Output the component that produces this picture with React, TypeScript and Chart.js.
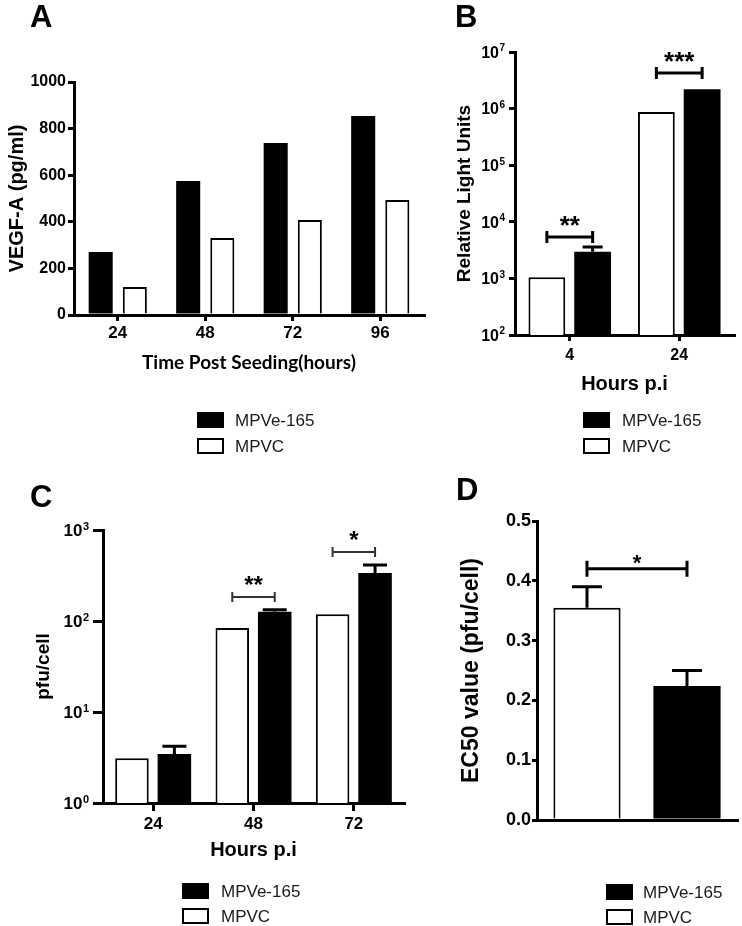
import React, { useEffect, useRef } from 'react';
import { Chart, registerables } from 'chart.js';

Chart.register(...registerables);

const FONT = '"Liberation Sans", Arial, Helvetica, sans-serif';

// ---------- Panel A : VEGF-A secretion ----------
const A_CATEGORIES = ['24', '48', '72', '96'];
const A_MPVE165 = [270, 575, 738, 854];
const A_MPVC = [120, 330, 408, 494];
const A_Y_TICKS = [0, 200, 400, 600, 800, 1000];

// ---------- Panel B : Relative Light Units ----------
const B_CATEGORIES = ['4', '24'];
const B_MPVC = [1050, 870000];
const B_MPVE165 = [2950, 2200000];
const B_MPVE165_UPPER = [3600, null];
const B_Y_TICKS = [1e2, 1e3, 1e4, 1e5, 1e6, 1e7];
const B_Y_EXPONENTS = ['2', '3', '4', '5', '6', '7'];
const B_SIG_LEVEL = [5400, 4250000];
const B_SIG_LABEL = ['**', '***'];

// ---------- Panel C : pfu/cell ----------
const C_CATEGORIES = ['24', '48', '72'];
const C_MPVC = [3.1, 84, 119];
const C_MPVE165 = [3.45, 126, 337];
const C_MPVE165_UPPER = [4.2, 133, 412];
const C_Y_TICKS = [1, 10, 100, 1000];
const C_Y_EXPONENTS = ['0', '1', '2', '3'];
const C_SIG_LEVEL = [null, 184, 573];
const C_SIG_LABEL = ['', '**', '*'];

// ---------- Panel D : EC50 ----------
const D_CATEGORIES = ['MPVC', 'MPVe-165'];
const D_MPVC = [0.355, null];
const D_MPVE165 = [null, 0.224];
const D_MPVC_UPPER = [0.39, null];
const D_MPVE165_UPPER = [null, 0.25];
const D_Y_TICKS = [0, 0.1, 0.2, 0.3, 0.4, 0.5];
const D_Y_LABELS = ['0.0', '0.1', '0.2', '0.3', '0.4', '0.5'];
const D_SIG_LEVEL = 0.42;
const D_SIG_LABEL = '*';

const LEGEND_LABELS = ['MPVe-165', 'MPVC'];
const LEGEND_FILLS = ['#000000', '#ffffff'];

const decorPlugin: any = {
  id: 'decor',
  afterDatasetsDraw(chart: any, _args: any, opts: any) {
    const ctx = chart.ctx;
    const ys = chart.scales.y;
    ctx.save();
    (opts.errors || []).forEach((e: any) => {
      const meta = chart.getDatasetMeta(e.dataset);
      e.upper.forEach((u: any, i: number) => {
        if (u == null) return;
        const el = meta.data[i];
        const yu = ys.getPixelForValue(u);
        ctx.strokeStyle = '#000';
        ctx.lineWidth = e.width;
        ctx.beginPath();
        ctx.moveTo(el.x, el.y);
        ctx.lineTo(el.x, yu);
        ctx.moveTo(el.x - e.cap / 2, yu);
        ctx.lineTo(el.x + e.cap / 2, yu);
        ctx.stroke();
      });
    });
    (opts.brackets || []).forEach((b: any) => {
      if (b.level == null) return;
      const x1 = chart.getDatasetMeta(b.a[0]).data[b.a[1]].x;
      const x2 = chart.getDatasetMeta(b.b[0]).data[b.b[1]].x;
      const y = ys.getPixelForValue(b.level);
      ctx.strokeStyle = b.color;
      ctx.lineWidth = b.width;
      ctx.beginPath();
      ctx.moveTo(x1, y);
      ctx.lineTo(x2, y);
      ctx.moveTo(x1, y - b.tick);
      ctx.lineTo(x1, y + b.tick);
      ctx.moveTo(x2, y - b.tick);
      ctx.lineTo(x2, y + b.tick);
      ctx.stroke();
      ctx.fillStyle = '#000';
      ctx.font = `bold ${b.starSize}px ${FONT}`;
      ctx.textAlign = 'center';
      ctx.textBaseline = 'alphabetic';
      const cy = y - b.gap;
      ctx.fillText(b.label, (x1 + x2) / 2, cy + 0.59 * b.starSize);
    });
    ctx.restore();
  },
  afterDraw(chart: any, _args: any, opts: any) {
    const ctx = chart.ctx;
    ctx.save();
    if (opts.powers) {
      // tick labels of a log axis written as 10 with a raised exponent
      const P = opts.powers;
      const ys = chart.scales.y;
      const right = chart.chartArea.left - P.offset;
      ys.ticks.forEach((t: any, i: number) => {
        const y = ys.getPixelForValue(t.value);
        ctx.fillStyle = '#000';
        ctx.textAlign = 'right';
        ctx.textBaseline = 'alphabetic';
        ctx.font = `bold ${P.expSize}px ${FONT}`;
        const ew = ctx.measureText(P.exponents[i]).width;
        const digitTop = y - 0.358 * P.size;
        ctx.fillText(P.exponents[i], right, digitTop - 2 + 0.716 * P.expSize);
        ctx.font = `bold ${P.size}px ${FONT}`;
        ctx.fillText('10', right - ew - 0.5, y + 0.358 * P.size);
      });
    }
    if (opts.letter) {
      ctx.fillStyle = '#000';
      ctx.font = `bold 31px ${FONT}`;
      ctx.textAlign = 'left';
      ctx.textBaseline = 'alphabetic';
      ctx.fillText(opts.letter.text, opts.letter.x, opts.letter.y);
    }
    if (opts.legend) {
      const L = opts.legend;
      LEGEND_LABELS.forEach((lab, i) => {
        const cy = L.rows[i];
        ctx.fillStyle = LEGEND_FILLS[i];
        ctx.fillRect(L.boxX, cy - 7, 25, 14);
        ctx.strokeStyle = '#000';
        ctx.lineWidth = 2;
        ctx.strokeRect(L.boxX, cy - 7, 25, 14);
        ctx.fillStyle = '#1a1a1a';
        ctx.font = `17px ${FONT}`;
        ctx.textAlign = 'left';
        ctx.textBaseline = 'middle';
        ctx.fillText(lab, L.textX, cy + 1);
      });
    }
    ctx.restore();
  },
};

function yAxis(width: number, tickSize: number, tickLen: number, tickPad: number,
  title: string, titleSize: number, titlePad: number, ticks: number[], labels: string[] | null) {
  return {
    afterFit: (s: any) => { s.width = width; },
    afterBuildTicks: (s: any) => { s.ticks = ticks.map((v) => ({ value: v })); },
    border: { display: true, color: '#000', width: 3 },
    grid: {
      display: true, drawOnChartArea: false, drawTicks: true, tickLength: tickLen,
      tickWidth: 3, tickColor: '#000', color: '#000', lineWidth: 3,
    },
    ticks: {
      display: !!labels, color: '#000', padding: tickPad,
      font: { family: FONT, size: tickSize, weight: 'bold', lineHeight: 1 },
      callback: (v: any, i: number) => (labels ? labels[i] : String(v)),
    },
    title: {
      display: true, text: title, color: '#000',
      font: { family: FONT, size: titleSize, weight: 'bold', lineHeight: 1 },
      padding: { top: titlePad, bottom: 0 },
    },
  };
}

function xAxis(height: number, tickSize: number, tickLen: number, tickPad: number,
  title: string | null, titleFont: any, titlePad: number, showTicks: boolean) {
  return {
    afterFit: (s: any) => { s.height = height; },
    border: { display: true, color: '#000', width: 3 },
    grid: {
      display: showTicks, offset: false, drawOnChartArea: false, drawTicks: showTicks, tickLength: tickLen,
      tickWidth: 3, tickColor: '#000', color: '#000', lineWidth: 3,
    },
    ticks: {
      display: showTicks, color: '#000', padding: tickPad,
      font: { family: FONT, size: tickSize, weight: 'bold', lineHeight: 1 },
    },
    title: {
      display: !!title, text: title || '', color: '#000',
      font: titleFont,
      padding: { top: 0, bottom: titlePad },
    },
  };
}

const basePlugins = { legend: { display: false }, tooltip: { enabled: false } };

function configA(): any {
  return {
    type: 'bar',
    data: {
      labels: A_CATEGORIES,
      datasets: [
        { label: 'MPVe-165', data: A_MPVE165, backgroundColor: '#000', borderColor: '#000', borderWidth: 0, categoryPercentage: 0.78, barPercentage: 0.705 },
        { label: 'MPVC', data: A_MPVC, backgroundColor: '#fff', borderColor: '#000', borderWidth: 2, categoryPercentage: 0.78, barPercentage: 0.705 },
      ],
    },
    options: {
      responsive: false, animation: false,
      layout: { padding: { left: 0, top: 82, right: 742 - 424, bottom: 926 - 315 - 70 } },
      scales: {
        x: xAxis(70, 17, 6, 3.5, 'Time Post Seeding(hours)', { family: 'Lato, "Open Sans", sans-serif', size: 19, weight: 'bold', lineHeight: 1 }, 13, true),
        y: { ...yAxis(74, 16, 6, 2, 'VEGF-A (pg/ml)', 20, 7, A_Y_TICKS, A_Y_TICKS.map(String)), min: 0, max: 1000 },
      },
      plugins: {
        ...basePlugins,
        decor: {
          letter: { text: 'A', x: 30, y: 27 },
          legend: { boxX: 198, textX: 235, rows: [420, 446] },
        },
      },
    },
    plugins: [decorPlugin],
  };
}

function configB(): any {
  return {
    type: 'bar',
    data: {
      labels: B_CATEGORIES,
      datasets: [
        { label: 'MPVC', data: B_MPVC, backgroundColor: '#fff', borderColor: '#000', borderWidth: 2, categoryPercentage: 0.836, barPercentage: 0.804 },
        { label: 'MPVe-165', data: B_MPVE165, backgroundColor: '#000', borderColor: '#000', borderWidth: 0, categoryPercentage: 0.836, barPercentage: 0.804 },
      ],
    },
    options: {
      responsive: false, animation: false,
      layout: { padding: { left: 440, top: 52, right: 742 - 734, bottom: 926 - 335 - 70 } },
      scales: {
        x: xAxis(70, 16, 6, 7, 'Hours p.i', { family: FONT, size: 20, weight: 'bold', lineHeight: 1 }, 11, true),
        y: { ...yAxis(75, 16, 6, 4, 'Relative Light Units', 19, 15, B_Y_TICKS, null), type: 'logarithmic', min: 1e2, max: 1e7 },
      },
      plugins: {
        ...basePlugins,
        decor: {
          letter: { text: 'B', x: 455, y: 27 },
          legend: { boxX: 584, textX: 622, rows: [420, 446] },
          powers: { exponents: B_Y_EXPONENTS, size: 16, expSize: 10, offset: 10 },
          errors: [{ dataset: 1, upper: B_MPVE165_UPPER, cap: 20, width: 3 }],
          brackets: B_SIG_LEVEL.map((lv, i) => ({
            a: [0, i], b: [1, i], level: lv, label: B_SIG_LABEL[i],
            color: '#000', width: 3, tick: 6, starSize: 26, gap: 18,
          })),
        },
      },
    },
    plugins: [decorPlugin],
  };
}

function configC(): any {
  return {
    type: 'bar',
    data: {
      labels: C_CATEGORIES,
      datasets: [
        { label: 'MPVC', data: C_MPVC, backgroundColor: '#fff', borderColor: '#000', borderWidth: 2, categoryPercentage: 0.846, barPercentage: 0.79 },
        { label: 'MPVe-165', data: C_MPVE165, backgroundColor: '#000', borderColor: '#000', borderWidth: 0, categoryPercentage: 0.846, barPercentage: 0.79 },
      ],
    },
    options: {
      responsive: false, animation: false,
      layout: { padding: { left: 20, top: 530, right: 742 - 404, bottom: 926 - 803 - 70 } },
      scales: {
        x: xAxis(70, 17, 8, 4.5, 'Hours p.i', { family: FONT, size: 20, weight: 'bold', lineHeight: 1 }, 13, true),
        y: { ...yAxis(83, 17, 10, 4, 'pfu/cell', 19, 14.5, C_Y_TICKS, null), type: 'logarithmic', min: 1, max: 1000 },
      },
      plugins: {
        ...basePlugins,
        decor: {
          letter: { text: 'C', x: 30, y: 507 },
          legend: { boxX: 183, textX: 221, rows: [891, 916] },
          powers: { exponents: C_Y_EXPONENTS, size: 17, expSize: 11, offset: 14 },
          errors: [{ dataset: 1, upper: C_MPVE165_UPPER, cap: 24, width: 3 }],
          brackets: C_SIG_LEVEL.map((lv, i) => ({
            a: [0, i], b: [1, i], level: lv, label: C_SIG_LABEL[i],
            color: '#333', width: 2, tick: 5, starSize: 24, gap: 18,
          })),
        },
      },
    },
    plugins: [decorPlugin],
  };
}

function configD(): any {
  return {
    type: 'bar',
    data: {
      labels: D_CATEGORIES,
      datasets: [
        { label: 'MPVC', data: D_MPVC, skipNull: true, backgroundColor: '#fff', borderColor: '#000', borderWidth: 2, categoryPercentage: 0.8, barPercentage: 0.84 },
        { label: 'MPVe-165', data: D_MPVE165, skipNull: true, backgroundColor: '#000', borderColor: '#000', borderWidth: 0, categoryPercentage: 0.8, barPercentage: 0.84 },
      ],
    },
    options: {
      responsive: false, animation: false,
      layout: { padding: { left: 440, top: 521, right: 742 - 737, bottom: 926 - 820 } },
      scales: {
        x: xAxis(0, 17, 0, 0, null, { family: FONT, size: 20, weight: 'bold', lineHeight: 1 }, 0, false),
        y: { ...yAxis(97, 18, 5, 1, 'EC50 value (pfu/cell)', 23, 20.5, D_Y_TICKS, D_Y_LABELS), min: 0, max: 0.5 },
      },
      plugins: {
        ...basePlugins,
        decor: {
          letter: { text: 'D', x: 456, y: 500 },
          legend: { boxX: 607, textX: 643, rows: [892, 917] },
          errors: [
            { dataset: 0, upper: D_MPVC_UPPER, cap: 30, width: 3 },
            { dataset: 1, upper: D_MPVE165_UPPER, cap: 30, width: 3 },
          ],
          brackets: [{
            a: [0, 0], b: [1, 1], level: D_SIG_LEVEL, label: D_SIG_LABEL,
            color: '#000', width: 3, tick: 8, starSize: 22, gap: 12,
          }],
        },
      },
    },
    plugins: [decorPlugin],
  };
}

export default function App() {
  const r0 = useRef<HTMLCanvasElement | null>(null);
  const r1 = useRef<HTMLCanvasElement | null>(null);
  const r2 = useRef<HTMLCanvasElement | null>(null);
  const r3 = useRef<HTMLCanvasElement | null>(null);

  useEffect(() => {
    const refs = [r0, r1, r2, r3];
    const cfgs = [configA(), configB(), configC(), configD()];
    const charts = cfgs.map((cfg, i) => new Chart(refs[i].current as HTMLCanvasElement, cfg));
    return () => charts.forEach((c) => c.destroy());
  }, []);

  const cs: React.CSSProperties = { position: 'absolute', left: 0, top: 0 };
  return (
    <div style={{ position: 'absolute', left: 0, top: 0, width: 742, height: 926, background: '#fff', overflow: 'hidden' }}>
      <canvas ref={r0} width={742} height={926} style={cs} />
      <canvas ref={r1} width={742} height={926} style={cs} />
      <canvas ref={r2} width={742} height={926} style={cs} />
      <canvas ref={r3} width={742} height={926} style={cs} />
    </div>
  );
}
